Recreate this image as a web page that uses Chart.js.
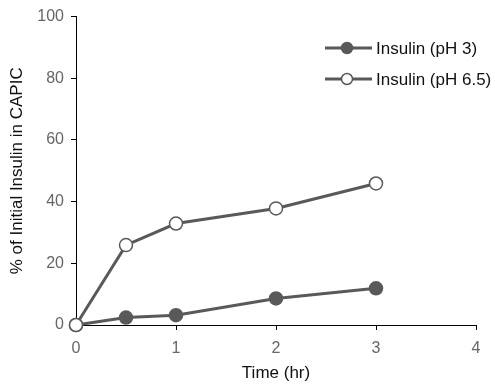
<!DOCTYPE html>
<html>
<head>
<meta charset="utf-8">
<script src="https://cdn.jsdelivr.net/npm/chart.js@4/dist/chart.umd.min.js"></script>
<style>
  html, body { margin: 0; padding: 0; background: #fff; }
  #wrap { width: 495px; height: 384px; }
</style>
</head>
<body>
<div id="wrap"><canvas id="chart"></canvas></div>
<script>
// Data
const times = [0, 0.5, 1, 2, 3];
const insulinPh3 = [0, 2.4, 3.2, 8.6, 11.9];
const insulinPh65 = [0, 25.9, 32.9, 37.8, 45.9];
const seriesLabels = [`Insulin (pH 3)`, `Insulin (pH 6.5)`];

const LINE = `#595959`;
const FONT = `"Liberation Sans", Arial, sans-serif`;

const toPoints = (values) => times.map((t, i) => ({x: t, y: values[i]}));

// Legend with a line + marker swatch, placed top-right like the original
const lineLegend = {
  id: `lineLegend`,
  afterDraw(chart) {
    const {ctx} = chart;
    const rows = [48, 79];
    chart.data.datasets.forEach((ds, i) => {
      const y = rows[i];
      ctx.save();
      ctx.strokeStyle = ds.borderColor;
      ctx.lineWidth = ds.borderWidth;
      ctx.beginPath();
      ctx.moveTo(325, y);
      ctx.lineTo(372, y);
      ctx.stroke();
      ctx.beginPath();
      ctx.arc(347, y, 5.5, 0, Math.PI * 2);
      ctx.fillStyle = ds.pointBackgroundColor;
      ctx.fill();
      ctx.lineWidth = ds.pointBorderWidth;
      ctx.strokeStyle = ds.pointBorderColor;
      ctx.stroke();
      ctx.fillStyle = `#111`;
      ctx.font = `17px ${FONT}`;
      ctx.textBaseline = `middle`;
      ctx.textAlign = `left`;
      ctx.fillText(ds.label, 376, y + 1);
      ctx.restore();
    });
  }
};

new Chart(document.getElementById(`chart`), {
  type: `line`,
  data: {
    datasets: [{
      label: seriesLabels[0],
      data: toPoints(insulinPh3),
      borderColor: LINE,
      borderWidth: 3,
      pointRadius: 6.5,
      pointBackgroundColor: LINE,
      pointBorderColor: LINE,
      pointBorderWidth: 1.5,
      order: 1,
      clip: false
    }, {
      label: seriesLabels[1],
      data: toPoints(insulinPh65),
      borderColor: LINE,
      borderWidth: 3,
      pointRadius: 6.5,
      pointBackgroundColor: `#fff`,
      pointBorderColor: LINE,
      pointBorderWidth: 1.5,
      order: 0,
      clip: false
    }]
  },
  options: {
    responsive: true,
    maintainAspectRatio: false,
    animation: false,
    layout: {padding: {top: 16, right: 19, left: 0, bottom: 0}},
    plugins: {legend: {display: false}, tooltip: {enabled: false}},
    scales: {
      x: {
        type: `linear`,
        min: 0,
        max: 4,
        afterFit: (s) => { s.height = 59; },
        ticks: {stepSize: 1, color: `#666`, padding: 9, font: {family: FONT, size: 16}},
        grid: {drawOnChartArea: false, drawTicks: true, tickLength: 5, color: `#000`},
        border: {display: true, color: `#000`, width: 1},
        title: {display: true, text: `Time (hr)`, color: `#111`, font: {family: FONT, size: 17}, padding: {top: 0, bottom: 0}}
      },
      y: {
        min: 0,
        max: 100,
        afterFit: (s) => { s.width = 76; },
        ticks: {stepSize: 20, color: `#666`, padding: 7, font: {family: FONT, size: 16}},
        grid: {drawOnChartArea: false, drawTicks: true, tickLength: 5, color: `#000`},
        border: {display: true, color: `#000`, width: 1},
        title: {display: true, text: `% of Initial Insulin in CAPIC`, color: `#111`, font: {family: FONT, size: 17}, padding: {top: 7, bottom: 0}}
      }
    }
  },
  plugins: [lineLegend]
});
</script>
</body>
</html>
